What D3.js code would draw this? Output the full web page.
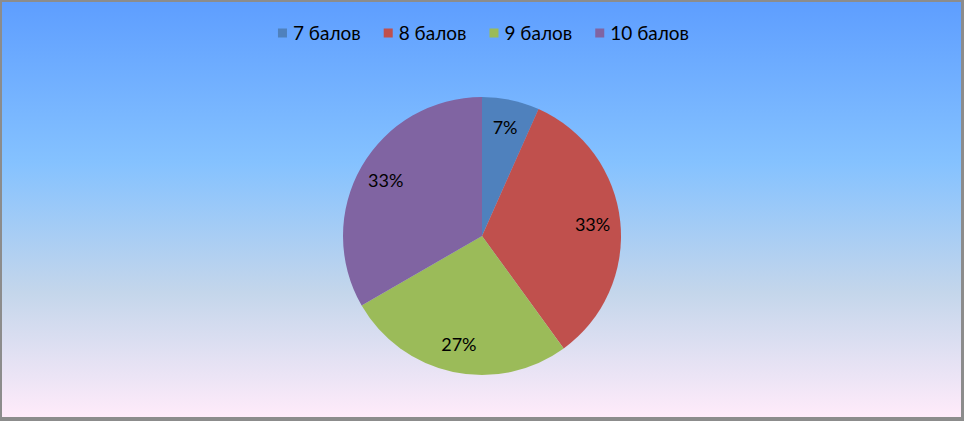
<!DOCTYPE html>
<html><head><meta charset="utf-8">
<script src="https://cdn.jsdelivr.net/npm/d3@7/dist/d3.min.js"></script>
<style>html,body{margin:0;padding:0;background:#fff;}svg{display:block;}</style>
</head><body>
<script>
const categories = ["7 балов", "8 балов", "9 балов", "10 балов"];
const values = [1, 5, 4, 5];
const labels = ["7%", "33%", "27%", "33%"];
const colors = ["#4f81bd", "#c0504d", "#9bbb59", "#8064a2"];

const W = 964, H = 421;
const svg = d3.select("body").append("svg").attr("width", W).attr("height", H);
const defs = svg.append("defs");
const grad = defs.append("linearGradient").attr("id", "bg").attr("x1", 0).attr("y1", 0).attr("x2", 0).attr("y2", 1);
[[0, "#5e9eff"], [0.39, "#85c2ff"], [0.70, "#c4d6eb"], [1, "#ffebfa"]].forEach(([o, c]) =>
  grad.append("stop").attr("offset", o).attr("stop-color", c));

svg.append("rect").attr("width", W).attr("height", H).attr("fill", "#8c8c8c");
svg.append("rect").attr("x", 2).attr("y", 2).attr("width", 959).attr("height", 415).attr("fill", "url(#bg)");

const font = "Lato, 'Open Sans', sans-serif";
const cx = 482, cy = 236, r = 139;
const pie = d3.pie().sort(null).value(d => d)(values);
const arc = d3.arc().innerRadius(0).outerRadius(r);
const labelArc = d3.arc().innerRadius(r * 0.8).outerRadius(r * 0.8);
const g = svg.append("g").attr("transform", `translate(${cx},${cy})`);
g.selectAll("path").data(pie).join("path")
  .attr("d", arc).attr("fill", (d, i) => colors[i]);
g.selectAll("text").data(pie).join("text")
  .attr("transform", d => `translate(${labelArc.centroid(d)})`)
  .attr("text-anchor", "middle").attr("dy", "0.36em")
  .attr("font-family", font).attr("font-size", 18).attr("fill", "#000")
  .text((d, i) => labels[i]);

// legend
const leg = svg.append("g");
const items = leg.selectAll("g").data(categories).join("g");
items.append("rect").attr("width", 9).attr("height", 9).attr("y", -4.5).attr("fill", (d, i) => colors[i]);
items.append("text").attr("x", 15).attr("dy", "0.36em")
  .attr("font-family", font).attr("font-size", 19).attr("fill", "#000").text(d => d);
let x = 0;
const gap = 23;
items.each(function () {
  const w = 15 + this.querySelector("text").getComputedTextLength();
  d3.select(this).attr("transform", `translate(${x},0)`);
  x += w + gap;
});
const total = x - gap;
leg.attr("transform", `translate(${(275 + 692) / 2 - total / 2},33)`);
</script>
</body></html>
